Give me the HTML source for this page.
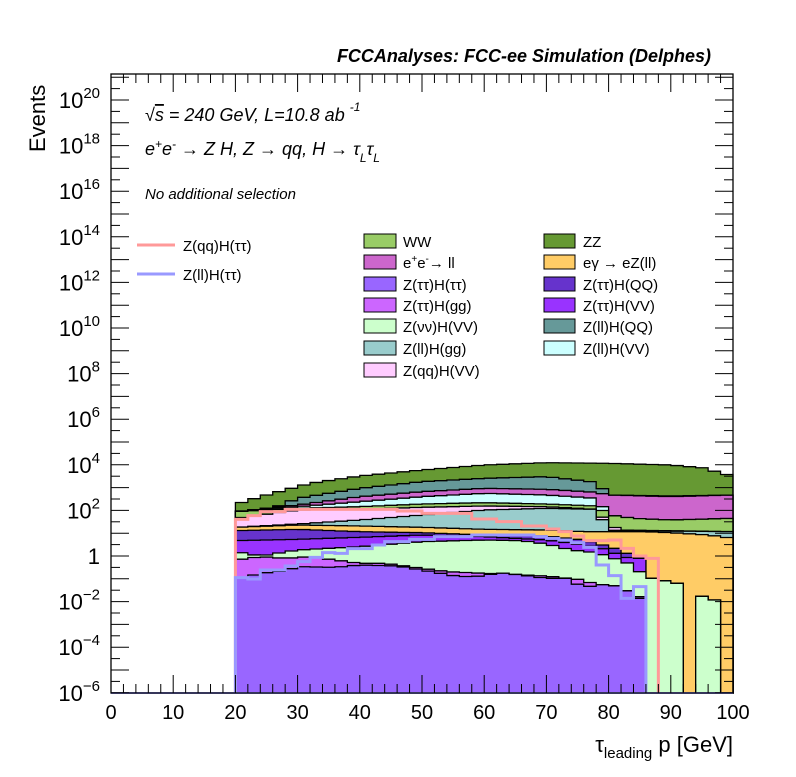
<!DOCTYPE html>
<html><head><meta charset="utf-8"><style>
body{margin:0;background:#fff;}
svg text{font-family:"Liberation Sans",sans-serif;}
</style></head><body>
<svg id="s" width="796" height="772" xmlns="http://www.w3.org/2000/svg"></svg>
<script>
const S=document.getElementById('s');
const X0=111,X1=733,Y0=74,YB=693;
const xg=g=>X0+(X1-X0)*g/100;
const yl=l=>556-22.8*l;
const zy=z=>450+z/3;
let h='';
const bins=[];for(let b=20;b<100;b+=2)bins.push(b);
function interp(pts,x){if(x<=pts[0][0])return pts[0][1];for(let i=1;i<pts.length;i++){if(x<=pts[i][0]){const[a,b]=pts[i-1],[c,d]=pts[i];return b+(d-b)*(x-a)/(c-a);}}return pts[pts.length-1][1];}
const layers=[ // bottom to top
['#9966ff',[[20,390],[22,380],[24,370],[28,362],[30,350],[36,352],[40,345],[46,348],[50,360],[56,380],[60,378],[62,368],[66,375],[70,385],[74,385],[76,420],[78,398],[80,410],[82,405],[84,440],[85,445],[86,732],[100,732]]],
['#cc66ff',[[20,330],[24,320],[28,325],[32,320],[36,330],[40,340],[44,340],[48,350],[54,365],[60,370],[64,373],[70,378],[76,390],[80,420],[84,440],[85,440],[86,732],[100,732]]],
['#ccffcc',[[20,305],[24,318],[30,300],[40,290],[50,275],[60,270],[66,272],[70,282],[74,300],[78,308],[80,320],[84,345],[86,385],[88,385],[90,400],[91,400],[92,732],[93,732],[94,428],[96,450],[97,450],[98,732],[100,732]]],
['#9933ff',[[20,272],[30,268],[40,262],[50,255],[60,260],[70,270],[76,285],[80,300],[82,320],[84,325],[85,325],[86,732],[100,732]]],
['#6633cc',[[20,242],[30,238],[40,245],[50,248],[60,255],[70,258],[76,270],[80,290],[82,300],[84,320],[85,320],[86,732],[100,732]]],
['#ffcc66',[[20,232],[30,225],[40,228],[50,232],[60,238],[70,240],[76,245],[86,245],[90,248],[96,255],[100,265]]],
['#99cccc',[[20,232],[30,222],[40,210],[50,195],[60,180],[70,175],[78,178],[80,240],[82,242],[100,245]]],
['#ffccff',[[20,205],[24,195],[30,180],[40,178],[50,172],[60,168],[70,170],[78,178],[80,225],[82,240],[100,245]]],
['#99cc66',[[20,185],[30,175],[40,170],[50,162],[60,158],[70,162],[78,168],[80,195],[84,205],[90,210],[100,205]]],
['#ccffff',[[20,185],[30,170],[40,155],[50,140],[60,130],[70,135],[78,145],[80,195],[84,205],[90,210],[100,205]]],
['#cc66cc',[[20,185],[30,165],[40,140],[50,125],[60,115],[70,118],[78,127],[80,135],[90,140],[100,135]]],
['#669999',[[20,185],[26,175],[30,145],[40,115],[50,95],[60,85],[70,80],[78,97],[80,135],[90,138],[100,135]]],
['#669933',[[20,163],[22,152],[24,140],[28,120],[32,100],[40,78],[50,60],[60,45],[70,38],[80,40],[90,45],[96,55],[98,72],[100,75]]]
];
const tops=[];let prev=bins.map(()=>732);
layers.forEach((L,i)=>{const t=bins.map((b,j)=>Math.min(interp(L[1],b+1),prev[j]));tops.push(t);prev=t;});
function stepPath(t){let d=`M${xg(20)},${YB}`;bins.forEach((b,j)=>{const y=Math.min(zy(t[j]),YB);d+=`L${xg(b)},${y}L${xg(b+2)},${y}`;});d+=`L${xg(100)},${YB}Z`;return d;}
for(let i=layers.length-1;i>=0;i--){h+=`<path d="${stepPath(tops[i])}" fill="${layers[i][0]}" stroke="#000" stroke-width="1.3"/>`;}
function lineSteps(arr){let d=`M${xg(20)},${YB}`;let last=20;arr.forEach(([b,z])=>{d+=`L${xg(b)},${zy(z)}L${xg(b+2)},${zy(z)}`;last=b+2;});d+=`L${xg(last)},${YB}`;return d;}
const pink=[[20,208],[22,197],[24,185],[26,185],[28,178],[30,178],[32,178],[34,178],[36,178],[38,178],[40,178],[42,178],[44,178],[46,183],[48,183],[50,190],[52,190],[54,190],[56,190],[58,207],[60,207],[62,215],[64,215],[66,228],[68,228],[70,237],[72,245],[74,258],[76,272],[78,272],[80,270],[82,295],[84,318],[86,325]];
const blue=[[20,383],[22,387],[24,360],[26,360],[28,348],[30,335],[32,322],[34,308],[36,310],[38,296],[40,296],[42,285],[44,275],[46,275],[48,268],[50,268],[52,260],[54,260],[56,260],[58,255],[60,255],[62,255],[64,255],[66,255],[68,260],[70,265],[72,270],[74,278],[76,292],[78,345],[80,377],[82,445],[84,410]];
h+=`<path d="${lineSteps(pink)}" fill="none" stroke="#ff9999" stroke-width="3"/>`;
h+=`<path d="${lineSteps(blue)}" fill="none" stroke="#9999ff" stroke-width="3"/>`;
h+=`<line x1="${X0}" y1="${YB}" x2="${X1}" y2="${YB}" stroke="#9999ff" stroke-width="2"/>`;
h+=`<rect x="${X0}" y="${Y0}" width="${X1-X0}" height="${YB-Y0}" fill="none" stroke="#000" stroke-width="1.3"/>`;
for(let g=0;g<=100;g+=2){const x=xg(g),L=g%10==0?18:9;h+=`<line x1="${x}" y1="${YB}" x2="${x}" y2="${YB-L}" stroke="#000"/><line x1="${x}" y1="${Y0}" x2="${x}" y2="${Y0+L}" stroke="#000"/>`;if(g%10==0)h+=`<text x="${x}" y="719" font-size="20" text-anchor="middle">${g}</text>`;}
for(let l=-6;l<=21;l++){const y=yl(l);if(y<Y0||y>YB)continue;h+=`<line x1="${X0}" y1="${y}" x2="${X0+18}" y2="${y}" stroke="#000"/><line x1="${X1}" y1="${y}" x2="${X1-18}" y2="${y}" stroke="#000"/>`;
 if(l%2==0){if(l==0)h+=`<text x="100" y="${y+8}" font-size="22" text-anchor="end">1</text>`;else h+=`<text x="100" y="${y+8}" font-size="22" text-anchor="end">10<tspan font-size="15" dy="-10">${l<0?'\u2212'+(-l):l}</tspan></text>`;}
}
for(let l=-6;l<21;l++){const y=yl(l+0.5);if(y<Y0)continue;h+=`<line x1="${X0}" y1="${y}" x2="${X0+9}" y2="${y}" stroke="#000"/><line x1="${X1}" y1="${y}" x2="${X1-9}" y2="${y}" stroke="#000"/>`;}
h+=`<text transform="translate(45,152) rotate(-90)" font-size="22">Events</text>`;
h+=`<text x="733" y="752" font-size="22" text-anchor="end">τ<tspan font-size="15" dy="6">leading</tspan><tspan dy="-6"> p [GeV]</tspan></text>`;
h+=`<text x="711" y="62" font-size="18" font-weight="bold" font-style="italic" text-anchor="end">FCCAnalyses: FCC-ee Simulation (Delphes)</text>`;
h+=`<text x="145" y="121" font-size="18" font-style="italic">√<tspan text-decoration="overline">s</tspan> = 240 GeV, L=10.8 ab <tspan font-size="12" dy="-10">-1</tspan></text>`;
h+=`<text x="145" y="155" font-size="18" font-style="italic">e<tspan font-size="12" dy="-7">+</tspan><tspan dy="7">e</tspan><tspan font-size="12" dy="-7">-</tspan><tspan dy="7"> → Z H, Z  → qq, H  → τ</tspan><tspan font-size="12" dy="7">L</tspan><tspan dy="-7">τ</tspan><tspan font-size="12" dy="7">L</tspan></text>`;
h+=`<text x="145" y="199" font-size="15" font-style="italic">No additional selection</text>`;
h+=`<line x1="137" y1="245" x2="175" y2="245" stroke="#ff9999" stroke-width="3"/><text x="183" y="251" font-size="15">Z(qq)H(ττ)</text>`;
h+=`<line x1="137" y1="274" x2="175" y2="274" stroke="#9999ff" stroke-width="3"/><text x="183" y="280" font-size="15">Z(ll)H(ττ)</text>`;
const leg=[['#99cc66','WW'],['#cc66cc','e<tspan font-size="10" dy="-6">+</tspan><tspan dy="6">e</tspan><tspan font-size="10" dy="-6">-</tspan><tspan dy="6">→ ll</tspan>'],['#9966ff','Z(ττ)H(ττ)'],['#cc66ff','Z(ττ)H(gg)'],['#ccffcc','Z(νν)H(VV)'],['#99cccc','Z(ll)H(gg)'],['#ffccff','Z(qq)H(VV)']];
const leg2=[['#669933','ZZ'],['#ffcc66','eγ → eZ(ll)'],['#6633cc','Z(ττ)H(QQ)'],['#9933ff','Z(ττ)H(VV)'],['#669999','Z(ll)H(QQ)'],['#ccffff','Z(ll)H(VV)']];
const rows=[241,262,284,305,326,348,370];
leg.forEach((e,i)=>{h+=`<rect x="364" y="${rows[i]-7}" width="32" height="14" fill="${e[0]}" stroke="#000"/><text x="403" y="${rows[i]+6}" font-size="15">${e[1]}</text>`;});
leg2.forEach((e,i)=>{h+=`<rect x="544" y="${rows[i]-7}" width="31" height="14" fill="${e[0]}" stroke="#000"/><text x="583" y="${rows[i]+6}" font-size="15">${e[1]}</text>`;});
S.innerHTML=h;
</script>
</body></html>
